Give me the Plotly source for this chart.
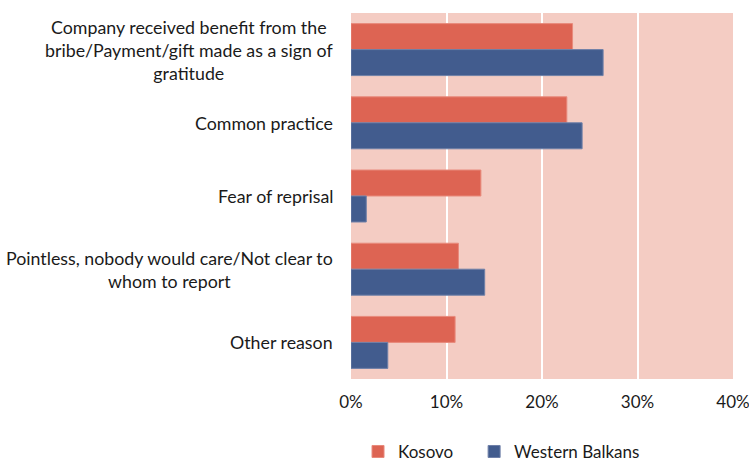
import plotly.graph_objects as go

categories = [
    "Company received benefit from the<br>bribe/Payment/gift made as a sign of<br>gratitude",
    "Common practice",
    "Fear of reprisal",
    "Pointless, nobody would care/Not clear to<br>whom to report",
    "Other reason",
]
kosovo = [0.232, 0.226, 0.136, 0.1125, 0.109]
western_balkans = [0.264, 0.242, 0.016, 0.140, 0.0385]
x_ticks = [0, 0.1, 0.2, 0.3, 0.4]
x_tick_labels = ["0%", "10%", "20%", "30%", "40%"]

FONT = "Lato"
ids = list(range(len(categories)))

fig = go.Figure()
fig.add_trace(go.Bar(
    name="Kosovo", y=ids, x=kosovo, orientation="h", legend="legend",
    marker=dict(color="#DD6453", line=dict(color="#E88A7C", width=1)),
))
fig.add_trace(go.Bar(
    name="Western Balkans", y=ids, x=western_balkans, orientation="h",
    legend="legend2",
    marker=dict(color="#425C8E", line=dict(color="#6F80A8", width=1)),
))

for i, c in enumerate(categories):
    fig.add_annotation(
        x=0, xref="paper", xanchor="right", xshift=-16,
        y=i, yref="y", yanchor="middle",
        text=c, showarrow=False, align="center",
        font=dict(family=FONT, size=17.8, color="#1a1a1a"),
    )

legend_common = dict(
    orientation="h", xref="container", yref="container",
    xanchor="left", y=0.026, yanchor="middle",
    font=dict(family=FONT, size=17, color="#1a1a1a"),
    itemwidth=30, bgcolor="rgba(0,0,0,0)",
)

fig.update_layout(
    width=749, height=464,
    margin=dict(l=351, r=16, t=13, b=85, autoexpand=False),
    paper_bgcolor="white",
    plot_bgcolor="#F4CCC3",
    barmode="group",
    bargap=0.29,
    bargroupgap=0,
    font=dict(family=FONT, size=17, color="#1a1a1a"),
    showlegend=True,
    legend=dict(x=0.478, **legend_common),
    legend2=dict(x=0.633, **legend_common),
    xaxis=dict(
        range=[0, 0.4], tickvals=x_ticks, ticktext=x_tick_labels,
        showgrid=True, gridcolor="white", gridwidth=2,
        zeroline=False, showline=False, automargin=False,
        ticklabeloverflow="allow",
        ticks="outside", ticklen=8, tickcolor="rgba(0,0,0,0)",
        tickfont=dict(family=FONT, size=17, color="#1a1a1a"),
    ),
    yaxis=dict(
        autorange="reversed", showticklabels=False, showgrid=False,
        zeroline=False, showline=False, ticks="", automargin=False,
        tickvals=ids,
    ),
)

fig.write_html(
    "out.html",
    config={"displayModeBar": False},
    post_script="document.body.style.margin='0';document.body.style.padding='0';",
)
